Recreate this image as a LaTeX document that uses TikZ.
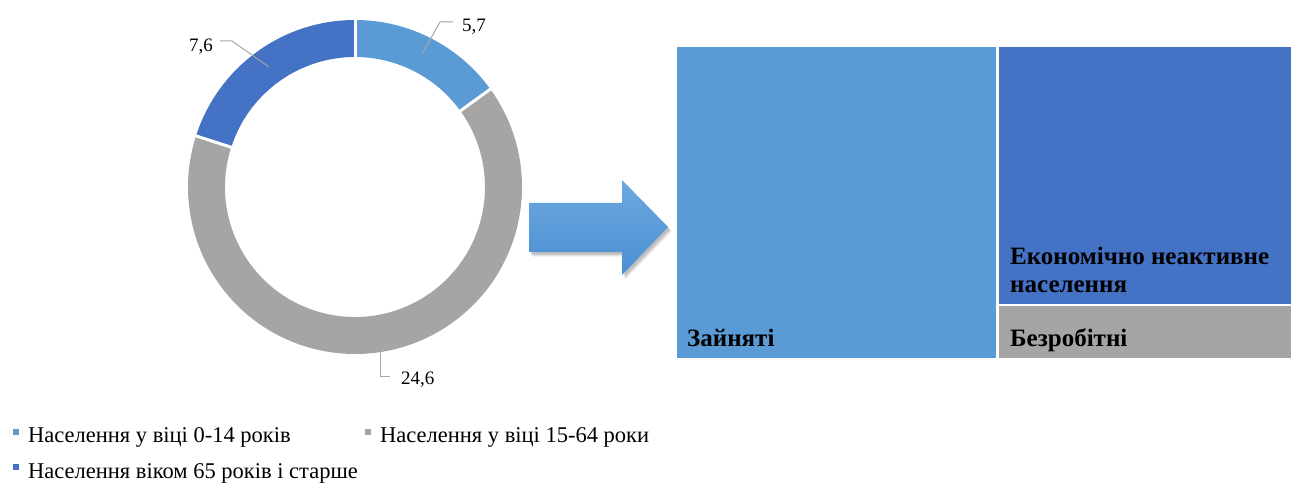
\documentclass[tikz,border=0pt]{standalone}
\usepackage{fontspec}
\setmainfont{Liberation Serif}
\definecolor{lblue}{HTML}{5B9BD5}
\definecolor{dblue}{HTML}{4472C4}
\definecolor{mgray}{HTML}{A5A5A5}
\definecolor{leadgray}{HTML}{A6A6A6}
\definecolor{arrtop}{HTML}{6DA9DF}
\definecolor{arrbot}{HTML}{4A8ED3}
\tikzset{
  leader/.style={draw=leadgray, line width=1pt},
  vallabel/.style={inner sep=0pt, font=\fontsize{19}{22}\selectfont},
  leglabel/.style={inner sep=0pt, anchor=base west, font=\fontsize{22.5}{26}\selectfont},
  tmlabel/.style={inner sep=0pt, anchor=base west, font=\fontsize{25}{28}\selectfont\bfseries},
  sep/.style={draw=white, line width=3pt},
  shadowlayer/.style={fill=black, fill opacity=0.07},
}
\newcommand\arrowshape{(529,282) -- (622,282) -- (622,305) -- (668,258) -- (622,210) -- (622,233) -- (529,233) -- cycle}
\begin{document}
\begin{tikzpicture}[x=1pt,y=1pt]
\useasboundingbox (0,0) rectangle (1291,485);
\fill[white] (0,0) rectangle (1291,485);
% donut
\begin{scope}[shift={(355,298)}]
  \fill[lblue] (90:167) arc[start angle=90, end angle=35.86, radius=167] -- (35.86:130) arc[start angle=35.86, end angle=90, radius=130] -- cycle;
  \fill[mgray] (35.86:167) arc[start angle=35.86, end angle=-197.81, radius=167] -- (-197.81:130) arc[start angle=-197.81, end angle=35.86, radius=130] -- cycle;
  \fill[dblue] (162.19:167) arc[start angle=162.19, end angle=90, radius=167] -- (90:130) arc[start angle=90, end angle=162.19, radius=130] -- cycle;
  \draw[sep] (90:126) -- (90:171);
  \draw[sep] (35.86:126) -- (35.86:171);
  \draw[sep] (162.19:126) -- (162.19:171);
\end{scope}
% value labels
\node[vallabel, anchor=base west] (v1) at (462,453) {5,7};
\node[vallabel, anchor=base east] (v3) at (213,433) {7,6};
\node[vallabel, anchor=base west] (v2) at (401,100) {24,6};
\coordinate (p1) at (422,431);
\coordinate (p3) at (269,418);
\coordinate (p2) at (380,133);
\coordinate (e1) at (453,463);
\coordinate (e3) at (220,444);
\coordinate (e2) at (390,108);
\draw[leader] (p1) -- (440,463) -- (e1);
\draw[leader] (p3) -- (232,444) -- (e3);
\draw[leader] (p2) -- (380,108) -- (e2);
% arrow with soft shadow
\foreach \d in {1,2,3,4} {
  \begin{scope}[shift={(1+0.6*\d,-1-0.9*\d)}]
    \path[shadowlayer] \arrowshape;
  \end{scope}
}
\path[top color=arrtop, bottom color=arrbot] \arrowshape;
% treemap
\fill[lblue] (677,127) rectangle (996,438);
\fill[dblue] (998.5,180.5) rectangle (1291,438);
\fill[mgray] (998.5,127) rectangle (1291,178.5);
\node[tmlabel] (zain) at (687,138) {Зайняті};
\node[tmlabel] (ekon) at (1010,220) {Економічно неактивне};
\node[tmlabel] (nasel) at (1010,192) {населення};
\node[tmlabel] (bezr) at (1010,138) {Безробітні};
% legend
\fill[lblue] (13,50) rectangle (19,56);
\fill[mgray] (365,50) rectangle (371,56);
\fill[dblue] (13,15) rectangle (19,21);
\node[leglabel] (l1) at (28,42) {Населення у віці 0-14 років};
\node[leglabel] (l2) at (380,42) {Населення у віці 15-64 роки};
\node[leglabel] (l3) at (28,7) {Населення віком 65 років і старше};
\end{tikzpicture}
\end{document}
